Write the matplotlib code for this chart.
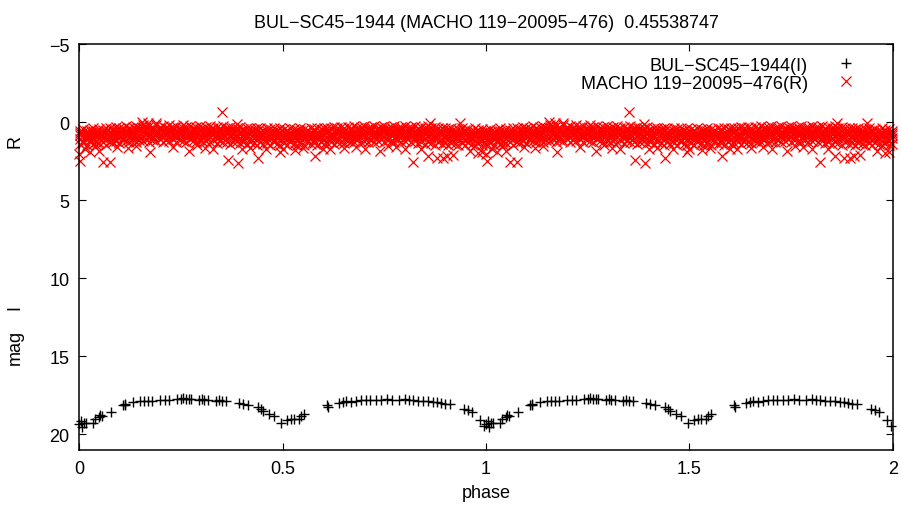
import numpy as np
import matplotlib.pyplot as plt

plt.rcParams['font.family'] = ['Liberation Sans', 'DejaVu Sans']

# OGLE I-band light curve, phase 0..1 (plotted twice)
i_phase = [0.000, 0.004, 0.008, 0.012, 0.018, 0.034, 0.040, 0.048, 0.052, 0.056,
           0.078, 0.108, 0.112, 0.114, 0.133, 0.150, 0.160, 0.170, 0.180, 0.200,
           0.212, 0.222, 0.240, 0.250, 0.256, 0.262, 0.270, 0.276, 0.296, 0.302,
           0.308, 0.318, 0.336, 0.345, 0.352, 0.362, 0.392, 0.402, 0.416, 0.440,
           0.446, 0.452, 0.468, 0.478, 0.496, 0.512, 0.520, 0.528, 0.540, 0.546,
           0.552, 0.610, 0.612, 0.640, 0.648, 0.656, 0.668, 0.680, 0.692, 0.704,
           0.716, 0.730, 0.742, 0.756, 0.770, 0.786, 0.800, 0.810, 0.820, 0.834,
           0.846, 0.858, 0.870, 0.880, 0.890, 0.900, 0.912, 0.945, 0.956, 0.966,
           0.985, 0.996]
i_mag = [19.35, 19.15, 19.55, 19.30, 19.25, 19.25, 19.00, 18.90, 18.75, 18.80,
         18.55, 18.15, 18.05, 18.10, 17.95, 17.90, 17.85, 17.85, 17.90, 17.80,
         17.80, 17.78, 17.75, 17.72, 17.70, 17.72, 17.75, 17.72, 17.78, 17.75,
         17.80, 17.80, 17.85, 17.82, 17.88, 17.90, 18.00, 18.05, 18.10, 18.25,
         18.40, 18.50, 18.70, 18.80, 19.30, 19.10, 19.05, 19.00, 19.05, 18.85,
         18.70, 18.15, 18.25, 18.00, 17.95, 17.90, 17.92, 17.85, 17.82, 17.80,
         17.80, 17.78, 17.78, 17.75, 17.78, 17.80, 17.75, 17.78, 17.80, 17.85,
         17.88, 17.90, 17.95, 17.95, 18.00, 18.05, 18.05, 18.40, 18.45, 18.60,
         19.10, 19.50]

# MACHO R-band: dense band, one row = phase + 5 magnitudes
r_rows = [
    [0.003, 0.55, 0.85, 1.10, 1.40, 0.70], [0.011, 0.45, 0.90, 1.20, 1.35, 0.65],
    [0.019, 0.60, 0.80, 1.05, 1.45, 0.95], [0.026, 0.50, 0.95, 1.15, 1.30, 0.75],
    [0.034, 0.40, 0.75, 1.00, 1.40, 0.60], [0.042, 0.55, 0.90, 1.25, 1.50, 0.70],
    [0.050, 0.45, 0.85, 1.05, 1.35, 0.65], [0.058, 0.50, 0.70, 1.00, 1.30, 0.85],
    [0.067, 0.40, 0.80, 1.10, 1.45, 0.60], [0.075, 0.35, 0.65, 0.95, 1.25, 0.80],
    [0.083, 0.45, 0.75, 1.05, 1.30, 0.90], [0.091, 0.30, 0.70, 0.90, 1.20, 0.50],
    [0.099, 0.40, 0.60, 0.95, 1.35, 0.80], [0.107, 0.35, 0.75, 1.00, 1.15, 0.55],
    [0.116, 0.25, 0.55, 0.85, 1.20, 0.70], [0.124, 0.40, 0.70, 0.95, 1.25, 0.55],
    [0.132, 0.30, 0.60, 0.90, 1.10, 0.75], [0.140, 0.25, 0.65, 1.00, 1.30, 0.45],
    [0.148, 0.35, 0.55, 0.80, 1.15, 0.95], [0.157, 0.20, 0.60, 0.90, 1.20, 0.40],
    [0.165, 0.30, 0.70, 0.85, 1.10, 0.50], [0.173, 0.25, 0.50, 0.80, 1.25, 1.00],
    [0.181, 0.35, 0.65, 0.95, 1.15, 0.50], [0.190, 0.20, 0.55, 0.85, 1.20, 0.70],
    [0.198, 0.30, 0.60, 0.80, 1.10, 0.45], [0.206, 0.25, 0.70, 0.95, 1.30, 0.50],
    [0.214, 0.35, 0.55, 0.85, 1.15, 0.70], [0.222, 0.20, 0.65, 0.90, 1.20, 0.45],
    [0.231, 0.30, 0.50, 0.80, 1.10, 0.65], [0.239, 0.25, 0.60, 0.95, 1.25, 0.80],
    [0.247, 0.35, 0.70, 0.85, 1.15, 0.50], [0.255, 0.20, 0.55, 0.80, 1.20, 0.40],
    [0.264, 0.30, 0.65, 0.90, 1.30, 0.50], [0.272, 0.25, 0.60, 0.85, 1.10, 0.75],
    [0.280, 0.35, 0.55, 0.95, 1.20, 0.75], [0.288, 0.30, 0.70, 0.90, 1.25, 0.50],
    [0.297, 0.25, 0.60, 0.85, 1.15, 0.45], [0.305, 0.35, 0.65, 1.00, 1.30, 0.80],
    [0.313, 0.30, 0.55, 0.90, 1.20, 0.70], [0.321, 0.25, 0.70, 0.95, 1.25, 0.50],
    [0.330, 0.40, 0.60, 0.85, 1.15, 0.75], [0.338, 0.30, 0.75, 1.00, 1.35, 0.55],
    [0.346, 0.35, 0.65, 0.90, 1.20, 0.50], [0.354, 0.25, 0.60, 0.95, 1.30, 0.80],
    [0.363, 0.40, 0.70, 1.05, 1.25, 0.55], [0.371, 0.30, 0.65, 0.90, 1.40, 0.50],
    [0.379, 0.35, 0.75, 1.00, 1.30, 0.60], [0.387, 0.40, 0.60, 0.95, 1.20, 0.80],
    [0.396, 0.30, 0.70, 1.05, 1.35, 0.55], [0.404, 0.45, 0.80, 1.00, 1.25, 0.60],
    [0.412, 0.35, 0.65, 0.95, 1.40, 0.80], [0.420, 0.40, 0.75, 1.10, 1.30, 0.60],
    [0.429, 0.45, 0.70, 1.00, 1.35, 0.85], [0.437, 0.35, 0.80, 1.05, 1.45, 0.60],
    [0.445, 0.40, 0.65, 0.95, 1.30, 0.80], [0.453, 0.50, 0.75, 1.10, 1.40, 0.90],
    [0.462, 0.40, 0.85, 1.00, 1.35, 0.60], [0.470, 0.45, 0.70, 1.05, 1.45, 0.90],
    [0.478, 0.35, 0.80, 1.15, 1.30, 0.60], [0.486, 0.50, 0.75, 1.00, 1.40, 0.90],
    [0.495, 0.40, 0.85, 1.10, 1.50, 0.65], [0.503, 0.45, 0.70, 1.05, 1.35, 0.90],
    [0.511, 0.50, 0.80, 1.00, 1.45, 0.65], [0.519, 0.40, 0.75, 1.15, 1.30, 0.95],
    [0.528, 0.45, 0.85, 1.05, 1.40, 0.65], [0.536, 0.50, 0.70, 1.10, 1.50, 0.90],
    [0.544, 0.40, 0.80, 1.00, 1.35, 0.60], [0.552, 0.45, 0.75, 1.05, 1.45, 0.95],
    [0.561, 0.50, 0.85, 1.10, 1.30, 0.65], [0.569, 0.40, 0.70, 1.00, 1.40, 0.85],
    [0.577, 0.45, 0.80, 1.15, 1.35, 0.60], [0.585, 0.35, 0.75, 1.05, 1.45, 0.90],
    [0.594, 0.45, 0.65, 1.00, 1.30, 0.85], [0.602, 0.40, 0.80, 1.10, 1.40, 0.60],
    [0.610, 0.35, 0.70, 0.95, 1.35, 0.55], [0.618, 0.40, 0.75, 1.05, 1.25, 0.90],
    [0.627, 0.30, 0.65, 0.95, 1.40, 0.80], [0.635, 0.35, 0.70, 1.00, 1.30, 0.55],
    [0.643, 0.30, 0.60, 0.90, 1.25, 0.75], [0.651, 0.40, 0.75, 1.05, 1.35, 0.55],
    [0.660, 0.30, 0.65, 0.95, 1.20, 0.80], [0.668, 0.35, 0.70, 0.90, 1.30, 0.50],
    [0.676, 0.25, 0.60, 1.00, 1.25, 0.80], [0.684, 0.35, 0.75, 0.95, 1.15, 0.55],
    [0.693, 0.30, 0.65, 0.85, 1.30, 0.50], [0.701, 0.25, 0.55, 0.90, 1.20, 0.75],
    [0.709, 0.35, 0.70, 1.00, 1.25, 0.50], [0.717, 0.30, 0.60, 0.85, 1.15, 0.45],
    [0.726, 0.25, 0.65, 0.95, 1.30, 0.80], [0.734, 0.35, 0.55, 0.90, 1.20, 0.75],
    [0.742, 0.30, 0.70, 0.85, 1.10, 0.50], [0.750, 0.25, 0.60, 0.95, 1.25, 0.45],
    [0.759, 0.35, 0.65, 0.90, 1.15, 0.50], [0.767, 0.30, 0.55, 0.85, 1.20, 0.70],
    [0.775, 0.25, 0.70, 1.00, 1.30, 0.50], [0.783, 0.35, 0.60, 0.90, 1.15, 0.75],
    [0.792, 0.30, 0.65, 0.85, 1.25, 0.45], [0.800, 0.25, 0.55, 0.95, 1.20, 0.75],
    [0.808, 0.35, 0.70, 0.90, 1.10, 0.55], [0.816, 0.30, 0.60, 0.85, 1.30, 0.45],
    [0.825, 0.25, 0.65, 1.00, 1.20, 0.80], [0.833, 0.35, 0.70, 0.90, 1.35, 0.55],
    [0.841, 0.30, 0.60, 0.95, 1.25, 0.75], [0.849, 0.35, 0.75, 1.00, 1.40, 0.55],
    [0.858, 0.25, 0.65, 0.90, 1.30, 0.45], [0.866, 0.40, 0.70, 1.05, 1.35, 0.85],
    [0.874, 0.30, 0.80, 0.95, 1.45, 0.55], [0.882, 0.35, 0.65, 1.00, 1.30, 0.85],
    [0.891, 0.40, 0.75, 1.10, 1.40, 0.60], [0.899, 0.35, 0.85, 1.05, 1.35, 0.60],
    [0.907, 0.45, 0.70, 1.00, 1.45, 0.85], [0.915, 0.40, 0.80, 1.15, 1.35, 0.60],
    [0.924, 0.50, 0.90, 1.05, 1.40, 0.70], [0.932, 0.45, 0.75, 1.10, 1.50, 0.95],
    [0.940, 0.40, 0.85, 1.00, 1.35, 0.65], [0.948, 0.50, 0.80, 1.15, 1.45, 0.65],
    [0.957, 0.45, 0.90, 1.05, 1.30, 0.70], [0.965, 0.55, 0.75, 1.10, 1.40, 0.95],
    [0.973, 0.40, 0.85, 1.20, 1.50, 0.65], [0.981, 0.50, 0.80, 1.00, 1.35, 0.65],
    [0.990, 0.45, 0.90, 1.15, 1.45, 0.70], [0.998, 0.55, 0.85, 1.05, 1.40, 0.70],
]

# scattered R points outside the band
r_out_phase = [0.351, 0.000, 0.002, 0.027, 0.050, 0.060, 0.075, 0.093, 0.174, 0.270,
               0.290, 0.310, 0.367, 0.391, 0.400, 0.420, 0.440, 0.460, 0.494, 0.530,
               0.580, 0.600, 0.617, 0.650, 0.703, 0.740, 0.780, 0.820, 0.858, 0.880,
               0.895, 0.905, 0.920, 0.936, 0.862, 0.155, 0.170, 0.190, 0.387, 0.960,
               0.980, 0.015, 0.120, 0.140, 0.230, 0.330, 0.500, 0.550, 0.680, 0.760,
               0.800, 0.840, 0.990]
r_out_mag = [-0.63, 2.04, 2.47, 1.90, 1.83, 2.57, 2.53, 1.60, 1.91, 1.87,
             1.50, 1.65, 2.43, 2.62, 1.71, 1.65, 2.32, 1.75, 1.91, 1.80,
             2.19, 1.75, 1.70, 1.65, 1.70, 1.87, 1.60, 2.55, 2.20, 2.30,
             2.30, 2.15, 2.10, 0.06, 0.06, 0.00, 0.05, 0.05, 0.15, 1.85,
             2.00, 1.75, 1.65, 1.55, 1.60, 1.75, 1.70, 1.65, 1.60, 1.55,
             1.70, 1.75, 1.90]

r_ph = []
r_mg = []
for row in r_rows:
    for m in row[1:]:
        r_ph.append(row[0])
        r_mg.append(m)
r_ph = np.array(r_ph + r_out_phase)
r_mg = np.array(r_mg + r_out_mag)
i_ph = np.array(i_phase)
i_mg = np.array(i_mag)

fig = plt.figure(figsize=(9.01, 5.06), dpi=100)
ax = fig.add_axes([0.0877, 0.109, 0.9034, 0.802])

ax.plot(np.concatenate([i_ph, i_ph + 1]), np.concatenate([i_mg, i_mg]), '+',
        color='black', ms=7, mew=1.0, label='BUL\u2212SC45\u22121944(I)', clip_on=False)
ax.plot(np.concatenate([r_ph, r_ph + 1]), np.concatenate([r_mg, r_mg]), 'x',
        color='red', ms=6.5, mew=0.9, label='MACHO 119\u221220095\u2212476(R)', clip_on=False)

ax.set_xlim(0, 2)
ax.set_ylim(21, -5)
ax.set_xticks([0, 0.5, 1, 1.5, 2])
ax.set_xticklabels(['0', '0.5', '1', '1.5', '2'])
ax.set_yticks([-5, 0, 5, 10, 15, 20])
ax.tick_params(direction='in', length=5, width=0.8, top=True, right=True,
               labelsize=13, pad=7)
for s in ax.spines.values():
    s.set_linewidth(1.1)

ax.set_xlabel('phase', fontsize=13, labelpad=5)
ax.set_title('BUL\u2212SC45\u22121944 (MACHO 119\u221220095\u2212476)  0.45538747',
             fontsize=13, pad=12)
fig.text(15 / 901, 1 - 142 / 506, 'R', rotation=90, fontsize=13, ha='center', va='center')
fig.text(15 / 901, 1 - 307 / 506, 'I', rotation=90, fontsize=13, ha='center', va='center')
fig.text(15 / 901, 1 - 347 / 506, 'mag', rotation=90, fontsize=13, ha='center', va='center')

ax.legend(loc='upper right', bbox_to_anchor=(0.975, 1.0), frameon=False,
          markerfirst=False, fontsize=13, handlelength=1.5, handletextpad=1.4,
          labelspacing=0.05, borderaxespad=0.3)

fig.savefig('out.png', dpi=100)
